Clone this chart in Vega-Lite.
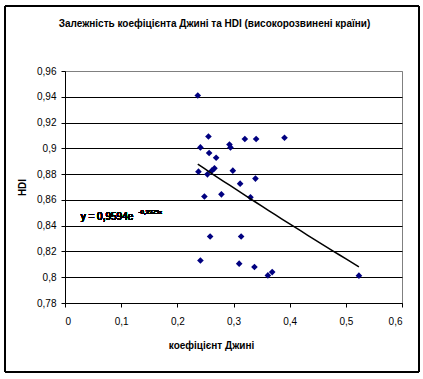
{
  "$schema": "https://vega.github.io/schema/vega-lite/v6.json",
  "width": 337,
  "height": 232,
  "autosize": "none",
  "padding": {"left": 65, "top": 71, "right": 21, "bottom": 76},
  "background": "white",
  "title": {
    "text": "Залежність коефіцієнта Джині та HDI (високорозвинені країни)",
    "font": "Liberation Sans",
    "fontSize": 10,
    "fontWeight": "bold",
    "color": "black",
    "anchor": "middle",
    "frame": "group",
    "baseline": "middle",
    "dx": -19,
    "offset": 0,
    "dy": 28
  },
  "config": {
    "locale": {"number": {"decimal": ",", "thousands": " ", "grouping": [3], "currency": ["", ""]}},
    "view": {"stroke": "#808080", "strokeWidth": 1},
    "axisX": {
      "domainColor": "black", "tickColor": "black", "tickSize": 4, "grid": false, "labelOverlap": false, "tickCount": 20,
      "labelFont": "Liberation Sans", "labelFontSize": 10, "labelColor": "black", "labelPadding": 9,
      "titleFont": "Liberation Sans", "titleFontSize": 10, "titleFontWeight": "bold", "titleColor": "black",
      "titlePadding": 14, "titleX": 146
    },
    "axisY": {
      "domainColor": "black", "tickColor": "black", "tickSize": 4, "grid": true, "gridOpacity": 1, "labelOverlap": false, "tickCount": 20,
      "gridColor": {"condition": {"test": "datum.value >= 0.959", "value": "#808080"}, "value": "black"},
      "labelFont": "Liberation Sans", "labelFontSize": 10, "labelColor": "black", "labelPadding": 5,
      "titleFont": "Liberation Sans", "titleFontSize": 10, "titleFontWeight": "bold", "titleColor": "black",
      "titleX": -38
    }
  },
  "data": {
    "values": [
      {"gini": 0.2364, "HDI": 0.941},
      {"gini": 0.2554, "HDI": 0.9092},
      {"gini": 0.2411, "HDI": 0.9007},
      {"gini": 0.2566, "HDI": 0.8964},
      {"gini": 0.2691, "HDI": 0.8927},
      {"gini": 0.2928, "HDI": 0.903},
      {"gini": 0.2946, "HDI": 0.9007},
      {"gini": 0.3202, "HDI": 0.9072},
      {"gini": 0.3403, "HDI": 0.9072},
      {"gini": 0.3908, "HDI": 0.9082},
      {"gini": 0.2376, "HDI": 0.8819},
      {"gini": 0.2536, "HDI": 0.8798},
      {"gini": 0.2614, "HDI": 0.8827},
      {"gini": 0.2661, "HDI": 0.8845},
      {"gini": 0.2988, "HDI": 0.8827},
      {"gini": 0.3391, "HDI": 0.8765},
      {"gini": 0.3118, "HDI": 0.8726},
      {"gini": 0.2482, "HDI": 0.8626},
      {"gini": 0.2785, "HDI": 0.8643},
      {"gini": 0.3302, "HDI": 0.862},
      {"gini": 0.2584, "HDI": 0.8316},
      {"gini": 0.3136, "HDI": 0.8316},
      {"gini": 0.2411, "HDI": 0.813},
      {"gini": 0.3101, "HDI": 0.8105},
      {"gini": 0.3373, "HDI": 0.8079},
      {"gini": 0.3612, "HDI": 0.8014},
      {"gini": 0.3689, "HDI": 0.804},
      {"gini": 0.5233, "HDI": 0.8012}
    ]
  },
  "layer": [
    {
      "mark": {"type": "rect", "fill": null, "stroke": "black", "strokeWidth": 1, "clip": false},
      "encoding": {
        "x": {"datum": -0.1068, "type": "quantitative", "scale": {"domain": [0, 0.6], "nice": false}},
        "x2": {"datum": 0.6302},
        "y": {"datum": 1.0102, "type": "quantitative", "scale": {"domain": [0.78, 0.96], "nice": false, "zero": false}},
        "y2": {"datum": 0.7265}
      }
    },
    {
      "mark": {"type": "point", "shape": "diamond", "filled": true, "color": "#000080", "size": 44, "opacity": 1},
      "encoding": {
        "x": {"field": "gini", "type": "quantitative", "title": "коефіцієнт Джині",
          "scale": {"domain": [0, 0.6], "nice": false},
          "axis": {"values": [0, 0.1, 0.2, 0.3, 0.4, 0.5, 0.6], "format": "~f"}},
        "y": {"field": "HDI", "type": "quantitative", "title": "HDI",
          "scale": {"domain": [0.78, 0.96], "nice": false, "zero": false},
          "axis": {"values": [0.78, 0.8, 0.82, 0.84, 0.86, 0.88, 0.9, 0.92, 0.94, 0.96], "format": "~f"}}
      }
    },
    {
      "transform": [{"regression": "HDI", "on": "gini", "method": "exp"}],
      "mark": {"type": "line", "color": "black", "strokeWidth": 1.5},
      "encoding": {
        "x": {"field": "gini", "type": "quantitative"},
        "y": {"field": "HDI", "type": "quantitative"}
      }
    },
    {
      "mark": {"type": "text", "text": "y = 0,9594e", "font": "Liberation Sans", "fontSize": 10, "align": "left", "baseline": "middle", "color": "black"},
      "encoding": {
        "x": {"datum": 0.028, "type": "quantitative"},
        "y": {"datum": 0.8465, "type": "quantitative"}
      }
    },
    {
      "mark": {"type": "text", "text": "-0,3325x", "font": "Liberation Sans", "fontSize": 6, "align": "left", "baseline": "middle", "color": "black"},
      "encoding": {
        "x": {"datum": 0.131, "type": "quantitative"},
        "y": {"datum": 0.8506, "type": "quantitative"}
      }
    }
  ]
}
